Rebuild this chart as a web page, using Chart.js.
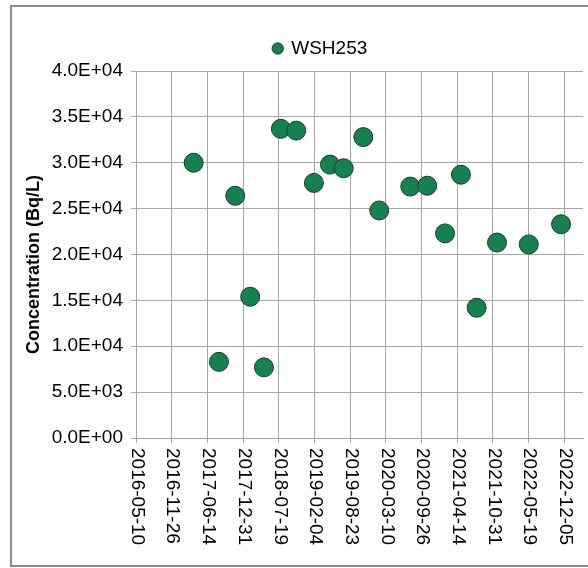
<!DOCTYPE html>
<html>
<head>
<meta charset="utf-8">
<script src="https://cdn.jsdelivr.net/npm/chart.js@4"></script>
<style>
  html, body { margin: 0; padding: 0; background: #fff; }
  #wrap { width: 588px; height: 568px; }
</style>
</head>
<body>
<div id="wrap"><canvas id="chart" width="588" height="568"></canvas></div>
<script>
// Sample dates and concentrations (Bq/L) for WSH253
const sampleDates = [
  '2017-03-29', '2017-08-18', '2017-11-17', '2018-02-09', '2018-04-27',
  '2018-07-31', '2018-10-25', '2019-02-01', '2019-05-02', '2019-07-18',
  '2019-11-05', '2020-02-02', '2020-07-25', '2020-10-28', '2021-02-05',
  '2021-05-05', '2021-08-01', '2021-11-23', '2022-05-20', '2022-11-17'
];
const concentrations = [
  30000, 8300, 26400, 15400, 7700,
  33700, 33500, 27800, 29800, 29400,
  32800, 24800, 27400, 27500, 22300,
  28700, 14200, 21300, 21100, 23300
];
const seriesName = 'WSH253';
const yTitle = 'Concentration (Bq/L)';

// x axis: days counted from the first tick date, one tick every 200 days
const axisStart = '2016-05-10';
const axisEndDays = 2505;
const tickStepDays = 200;

const DAY = 86400000;
const startMs = Date.parse(axisStart);
function toDays(s) { return Math.round((Date.parse(s) - startMs) / DAY); }
function dayLabel(d) { return new Date(startMs + d * DAY).toISOString().slice(0, 10); }

// Excel style 4.0E+04
function sci(v) {
  const [m, e] = Number(v).toExponential(1).split('e');
  const n = parseInt(e, 10);
  return m + 'E' + (n < 0 ? '-' : '+') + String(Math.abs(n)).padStart(2, '0');
}

const points = sampleDates.map((d, i) => ({ x: toDays(d), y: concentrations[i] }));

const GRID = '#a6a6a6';
const FONT = "'Liberation Sans', Arial, sans-serif";

// white background + outer chart border
const frame = {
  id: 'frame',
  beforeDraw(chart) {
    const ctx = chart.ctx;
    ctx.save();
    ctx.fillStyle = '#fff';
    ctx.fillRect(0, 0, chart.width, chart.height);
    ctx.strokeStyle = '#8c8c8c';
    ctx.lineWidth = 2;
    ctx.strokeRect(11, 6, 700, 560);
    ctx.restore();
  }
};

// legend is centred on the (wider, cropped) excel chart, nudge it right and up a bit
const legendShift = {
  id: 'legendShift',
  afterLayout(chart) {
    const lg = chart.legend;
    lg.left += 20;
    lg.right += 20;
    lg.top -= 3;
    lg.bottom -= 3;
  }
};

// date labels read top to bottom (rotated clockwise)
const dateLabels = {
  id: 'dateLabels',
  afterDraw(chart) {
    const sx = chart.scales.x;
    const ctx = chart.ctx;
    ctx.save();
    ctx.font = '19px ' + FONT;
    ctx.fillStyle = '#000';
    ctx.textAlign = 'left';
    ctx.textBaseline = 'middle';
    sx.ticks.forEach(t => {
      const x = sx.getPixelForValue(t.value);
      ctx.save();
      ctx.translate(x + 1, sx.top + 10);
      ctx.rotate(Math.PI / 2);
      ctx.fillText(dayLabel(t.value), 0, 0);
      ctx.restore();
    });
    ctx.restore();
  }
};

new Chart(document.getElementById('chart'), {
  type: 'scatter',
  data: {
    datasets: [{
      label: seriesName,
      data: points,
      backgroundColor: '#168050',
      borderColor: '#1f3a2a',
      borderWidth: 1,
      pointRadius: 9.5,
      pointHoverRadius: 9.5
    }]
  },
  options: {
    responsive: false,
    animation: false,
    devicePixelRatio: 1,
    layout: { autoPadding: false, padding: { left: 18, right: 5, top: 25, bottom: 5 } },
    plugins: {
      legend: {
        position: 'top',
        labels: {
          usePointStyle: true,
          pointStyle: 'circle',
          boxWidth: 8,
          boxHeight: 8,
          padding: 17,
          color: '#000',
          font: { family: FONT, size: 19 }
        }
      },
      tooltip: { enabled: false }
    },
    scales: {
      x: {
        type: 'linear',
        min: 0,
        max: axisEndDays,
        afterFit(scale) { scale.height = 125; },
        ticks: {
          display: false,
          stepSize: tickStepDays,
          includeBounds: false
        },
        grid: { color: GRID, tickLength: 5, lineWidth: 1 },
        border: { color: GRID }
      },
      y: {
        min: 0,
        max: 40000,
        afterFit(scale) { scale.width = 118; },
        ticks: {
          stepSize: 5000,
          padding: 8,
          color: '#000',
          font: { family: FONT, size: 19 },
          callback: v => sci(v)
        },
        grid: { color: GRID, tickLength: 5, lineWidth: 1 },
        border: { color: GRID },
        title: {
          display: true,
          // trailing spaces push the title a little below the axis centre, like excel
          text: yTitle + '    ',
          color: '#000',
          font: { family: FONT, size: 18, weight: 'bold' },
          padding: { top: 5, bottom: 0 }
        }
      }
    }
  },
  plugins: [frame, legendShift, dateLabels]
});
</script>
</body>
</html>
